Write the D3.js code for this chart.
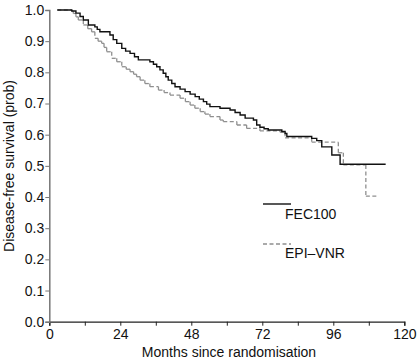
<!DOCTYPE html>
<html lang="en">
<head>
  <meta charset="UTF-8">
  <title>Disease-free survival</title>
  <script src="https://d3js.org/d3.v7.min.js"></script>
  <style>
    body { margin: 0; background: #fff; }
    text { font-family: "Liberation Sans", Arial, sans-serif; }
  </style>
</head>
<body>
<div class="main"></div>
<script>
  // Kaplan-Meier step points (months, survival prob)
  var fecMonths = [2.7, 7.6, 9.0, 10.4, 11.5, 13.2, 15.4, 16.2, 17.1, 20.5, 21.6, 22.8, 24.5, 25.8, 27.3, 28.8, 30.1,
    34.0, 35.2, 36.3, 37.4, 38.5, 39.4, 40.2, 41.4, 42.5, 44.2, 45.9, 47.6, 49.3, 50.7, 52.1, 53.2, 54.3, 57.7,
    61.1, 62.8, 64.5, 66.2, 69.0, 70.1, 71.2, 72.6, 74.0, 78.6, 79.7, 80.3, 88.7, 90.4, 92.1, 95.5, 98.3, 113.7];
  var fecSurv = [1.0, 0.997, 0.990, 0.979, 0.968, 0.952, 0.946, 0.938, 0.930, 0.920, 0.905, 0.893, 0.877, 0.868, 0.861, 0.850, 0.840,
    0.834, 0.826, 0.818, 0.808, 0.797, 0.786, 0.775, 0.764, 0.754, 0.746, 0.738, 0.730, 0.722, 0.714, 0.706, 0.698, 0.690, 0.685,
    0.679, 0.671, 0.663, 0.653, 0.647, 0.631, 0.624, 0.619, 0.615, 0.610, 0.604, 0.594, 0.588, 0.581, 0.561, 0.535, 0.505, 0.505];

  var epiMonths = [2.7, 7.6, 8.1, 9.0, 9.8, 11.5, 13.0, 14.3, 15.4, 16.5, 17.7, 18.5, 19.4, 21.1, 22.8, 24.5, 26.0, 27.3,
    28.5, 29.5, 30.7, 32.3, 34.0, 36.9, 38.8, 40.8, 44.2, 46.0, 47.6, 49.2, 51.0, 52.6, 54.3, 57.7, 58.8, 63.4,
    66.7, 71.2, 78.0, 79.7, 88.7, 97.7, 99.4, 107.0, 111.0];
  var epiSurv = [1.0, 0.997, 0.989, 0.978, 0.968, 0.952, 0.940, 0.930, 0.909, 0.900, 0.893, 0.880, 0.866, 0.845, 0.834, 0.818, 0.810, 0.802,
    0.794, 0.786, 0.775, 0.764, 0.754, 0.743, 0.735, 0.727, 0.717, 0.706, 0.695, 0.685, 0.674, 0.666, 0.658, 0.647, 0.642, 0.631,
    0.620, 0.612, 0.608, 0.590, 0.576, 0.542, 0.503, 0.403, 0.403];

  var xTicks = [0, 12, 24, 36, 48, 60, 72, 84, 96, 108, 120];
  var xLabels = [0, 24, 48, 72, 96, 120];
  var yTicks = [0, 0.1, 0.2, 0.3, 0.4, 0.5, 0.6, 0.7, 0.8, 0.9, 1.0];
  var seriesNames = ["FEC100", "EPI\u2013VNR"];

  var width = 418, height = 361;

  var svg = d3.select(".main")
          .append("svg")
          .attr("width", width)
          .attr("height", height);

  var xScale = d3.scaleLinear().domain([0, 120]).range([49.3, 404.3]);
  var yScale = d3.scaleLinear().domain([0, 1]).range([321.7, 10]);

  // axes
  var xAxis = d3.axisBottom(xScale)
          .tickValues(xTicks)
          .tickSize(4)
          .tickPadding(3)
          .tickFormat(function (d) { return xLabels.indexOf(d) >= 0 ? d : ""; });

  var yAxis = d3.axisLeft(yScale)
          .tickValues(yTicks)
          .tickSize(4)
          .tickPadding(1)
          .tickFormat(d3.format(".1f"));

  var gx = svg.append("g")
          .attr("transform", "translate(0," + yScale(0) + ")")
          .call(xAxis);
  gx.select(".domain").attr("stroke", "#222").attr("stroke-width", 1.3);
  gx.selectAll(".tick line").attr("stroke", "#222");
  gx.selectAll("text").attr("fill", "#111").style("font-size", "14px");

  var gy = svg.append("g")
          .attr("transform", "translate(" + xScale(0) + ",0)")
          .call(yAxis);
  gy.select(".domain").attr("stroke", "#777").attr("stroke-width", 1.5);
  gy.selectAll(".tick line").attr("stroke", "#777");
  gy.selectAll("text").attr("fill", "#111").style("font-size", "14px");

  svg.append("text")
          .attr("x", 229)
          .attr("y", 357)
          .attr("text-anchor", "middle")
          .style("font-size", "14px")
          .attr("fill", "#111")
          .text("Months since randomisation");

  svg.append("text")
          .attr("transform", "translate(14,166) rotate(-90)")
          .attr("text-anchor", "middle")
          .style("font-size", "14px")
          .attr("fill", "#111")
          .text("Disease-free survival (prob)");

  // split a step curve into horizontal / vertical pieces
  function stepSegments(months, surv) {
    var segs = [];
    for (var i = 0; i < months.length - 1; i++) {
      segs.push([months[i], surv[i], months[i + 1], surv[i]]);
      if (surv[i + 1] != surv[i]) {
        segs.push([months[i + 1], surv[i], months[i + 1], surv[i + 1]]);
      }
    }
    return segs;
  }

  // EPI-VNR, grey dashed (pattern restarts per step)
  svg.append("g").selectAll("line")
          .data(stepSegments(epiMonths, epiSurv))
          .join("line")
          .attr("x1", function (d) { return xScale(d[0]); })
          .attr("y1", function (d) { return yScale(d[1]); })
          .attr("x2", function (d) { return xScale(d[2]); })
          .attr("y2", function (d) { return yScale(d[3]); })
          .attr("stroke", "#8f8f8f")
          .attr("stroke-width", 1.3)
          .attr("stroke-dasharray", "4,2.5");

  // FEC100, black solid
  var line = d3.line()
          .x(function (d) { return xScale(d[0]); })
          .y(function (d) { return yScale(d[1]); })
          .curve(d3.curveStepAfter);

  svg.append("path")
          .datum(d3.zip(fecMonths, fecSurv))
          .attr("d", line)
          .attr("fill", "none")
          .attr("stroke", "#111")
          .attr("stroke-width", 1.4);

  // legend
  var legend = svg.append("g");
  legend.append("line").attr("x1", 263).attr("x2", 291).attr("y1", 204).attr("y2", 204)
          .attr("stroke", "#111").attr("stroke-width", 1.4);
  legend.append("text").attr("x", 285).attr("y", 219).style("font-size", "14px").attr("fill", "#111").text(seriesNames[0]);
  legend.append("line").attr("x1", 263).attr("x2", 291).attr("y1", 244).attr("y2", 244)
          .attr("stroke", "#8f8f8f").attr("stroke-width", 1.3).attr("stroke-dasharray", "4,2.5");
  legend.append("text").attr("x", 285).attr("y", 258).style("font-size", "14px").attr("fill", "#111").text(seriesNames[1]);
</script>
</body>
</html>
